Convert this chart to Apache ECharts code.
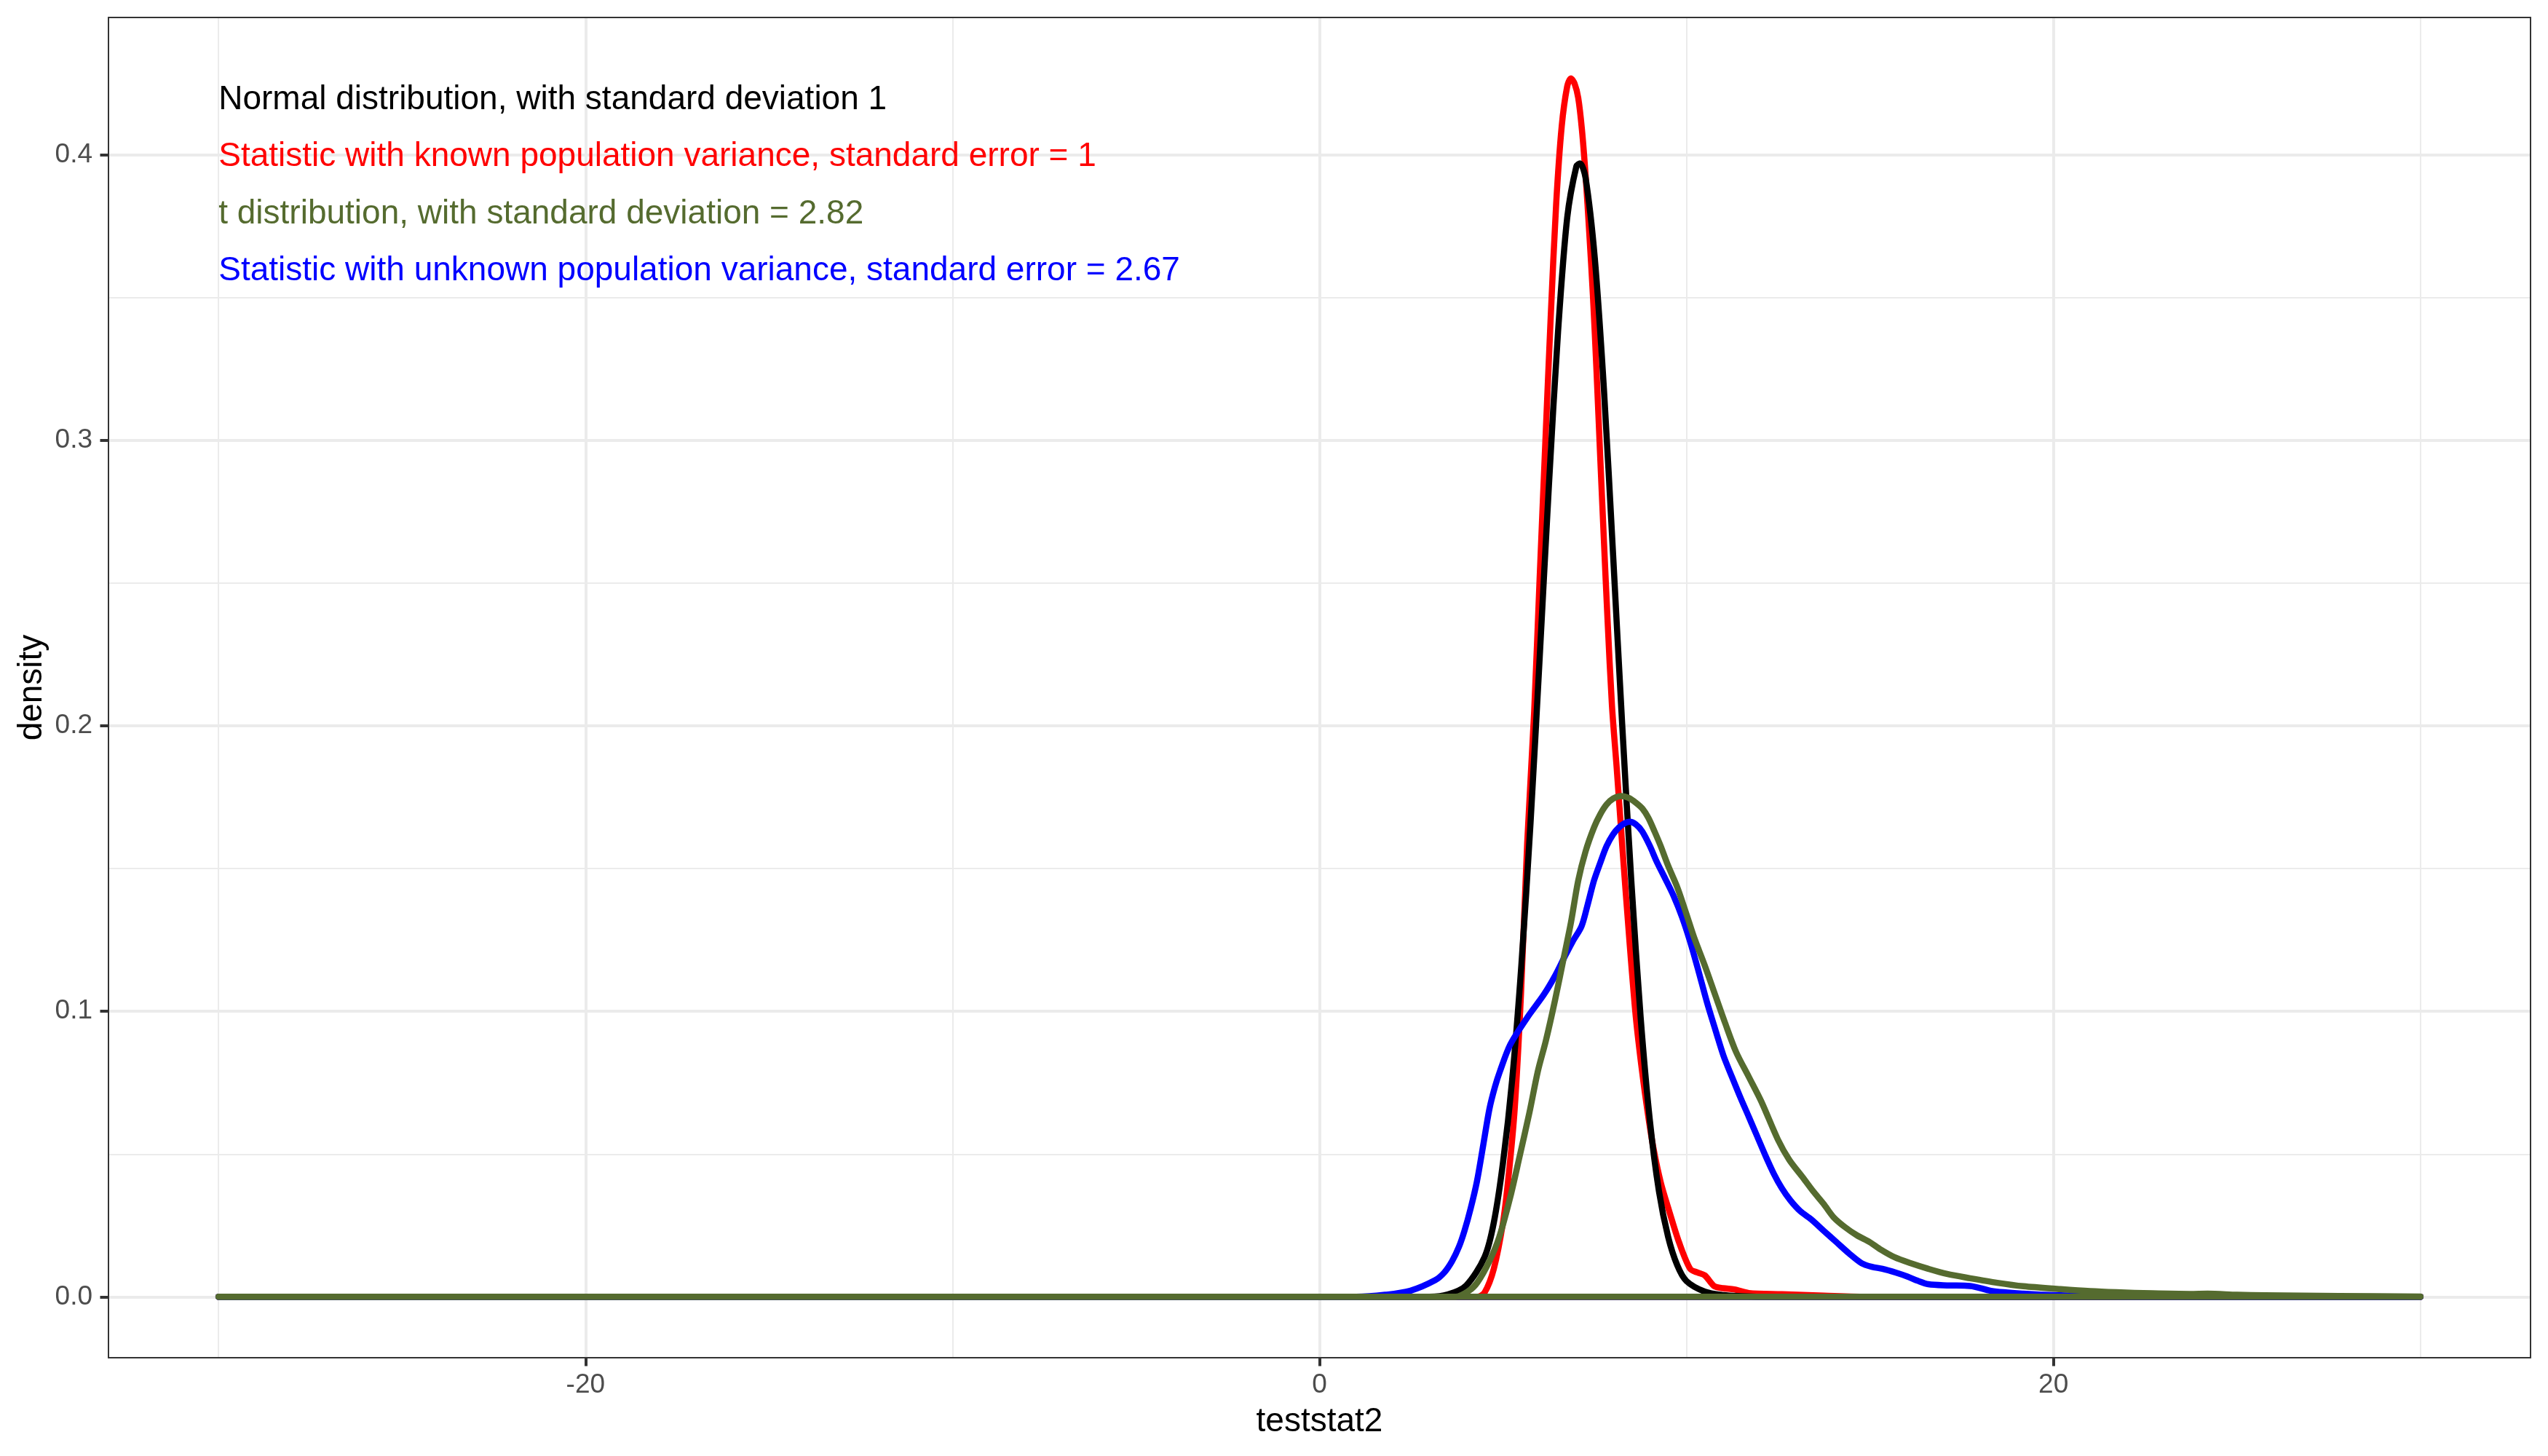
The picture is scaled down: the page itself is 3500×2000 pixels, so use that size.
<!DOCTYPE html>
<html>
<head>
<meta charset="utf-8">
<script src="https://cdn.jsdelivr.net/npm/echarts@6/dist/echarts.min.js"></script>
<style>
html, body { margin: 0; padding: 0; background: #ffffff; }
#chart { width: 3500px; height: 2000px; }
</style>
</head>
<body>
<div id="chart"></div>
<script>
// ---------- data ----------
const xTickValues = [-20, 0, 20];
const xMinorValues = [-30, -10, 10, 30];
const yTickValues = [0, 0.1, 0.2, 0.3, 0.4];
const yMinorValues = [0.05, 0.15, 0.25, 0.35];

const xTitle = 'teststat2';
const yTitle = 'density';

// Statistic with known population variance (red)
const redX = [-30, 4.3, 4.5, 4.75, 5.0, 5.15, 5.32, 5.49, 5.66, 5.85, 6.0, 6.15, 6.3, 6.45, 6.6, 6.75, 6.85, 6.95, 7.05, 7.15, 7.25, 7.35, 7.45, 7.55, 7.65, 7.75, 7.85, 7.97, 8.1, 8.25, 8.45, 8.62, 8.79, 8.95, 9.1, 9.3, 9.53, 9.8, 10.1, 10.3, 10.5, 10.75, 11.0, 11.3, 11.7, 12.6, 13.74, 15.0, 30];
const redY = [0, 0, 0.0015, 0.0098, 0.026, 0.042, 0.066, 0.106, 0.159, 0.205, 0.252, 0.298, 0.343, 0.383, 0.41, 0.424, 0.4268, 0.425, 0.42, 0.409, 0.393, 0.373, 0.351, 0.324, 0.294, 0.265, 0.237, 0.207, 0.185, 0.158, 0.124, 0.098, 0.079, 0.064, 0.052, 0.04, 0.03, 0.019, 0.0098, 0.0085, 0.0075, 0.0038, 0.003, 0.0026, 0.0013, 0.0009, 0.0004, 0, 0];

// Normal distribution, standard deviation 1 (black)
const blackX = [-30, 3.0, 3.5, 4.0, 4.5, 4.75, 5.0, 5.25, 5.5, 5.75, 6.0, 6.25, 6.5, 6.75, 7.0, 7.1, 7.25, 7.5, 7.75, 8.0, 8.25, 8.5, 8.75, 9.0, 9.25, 9.5, 9.75, 10.0, 10.5, 11.0, 11.5, 12.0, 30];
const blackY = [0, 0, 0.0008, 0.004, 0.014, 0.026, 0.047, 0.076, 0.116, 0.166, 0.224, 0.284, 0.338, 0.378, 0.396, 0.397, 0.392, 0.364, 0.318, 0.26, 0.2, 0.145, 0.098, 0.062, 0.037, 0.021, 0.011, 0.0055, 0.0018, 0.0006, 0.0002, 0, 0];

// Statistic with unknown population variance (blue)
const blueX = [-30, 1.0, 1.79, 2.47, 3.15, 3.4, 3.61, 3.8, 3.95, 4.12, 4.29, 4.46, 4.63, 4.78, 4.92, 5.2, 5.66, 6.11, 6.4, 6.68, 6.9, 7.14, 7.3, 7.48, 7.65, 7.82, 8.0, 8.16, 8.3, 8.45, 8.62, 8.79, 9.0, 9.19, 9.42, 9.65, 9.88, 10.1, 10.33, 10.56, 10.8, 11.01, 11.24, 11.47, 11.7, 11.92, 12.15, 12.38, 12.6, 12.83, 13.1, 13.4, 13.75, 14.09, 14.43, 14.77, 15.05, 15.34, 15.7, 16.02, 16.3, 16.59, 17.1, 17.73, 18.3, 19.18, 20.19, 22.0, 30];
const blueY = [0, 0, 0.0007, 0.0021, 0.0058, 0.0085, 0.0124, 0.0175, 0.0231, 0.031, 0.0404, 0.053, 0.0658, 0.0735, 0.0791, 0.0884, 0.0978, 0.1058, 0.112, 0.1191, 0.1245, 0.1298, 0.137, 0.1458, 0.152, 0.1578, 0.162, 0.1644, 0.1658, 0.1664, 0.1655, 0.1631, 0.158, 0.1524, 0.1465, 0.1404, 0.133, 0.1244, 0.114, 0.1031, 0.093, 0.0844, 0.077, 0.0698, 0.063, 0.0564, 0.0495, 0.0431, 0.038, 0.0338, 0.03, 0.0271, 0.023, 0.0191, 0.0152, 0.0118, 0.0105, 0.0098, 0.0085, 0.0071, 0.0056, 0.0044, 0.004, 0.0038, 0.0021, 0.0011, 0.0005, 0.0001, 0];

// t distribution (dark olive green)
const greenX = [-30, 3.7, 4.06, 4.3, 4.63, 4.9, 5.2, 5.45, 5.72, 5.95, 6.17, 6.42, 6.66, 6.85, 7.05, 7.25, 7.48, 7.65, 7.82, 8.0, 8.22, 8.42, 8.62, 8.8, 8.96, 9.13, 9.3, 9.5, 9.76, 10.0, 10.21, 10.5, 10.78, 11.05, 11.35, 11.7, 12.04, 12.49, 12.8, 13.17, 13.45, 13.74, 14.0, 14.31, 14.65, 14.99, 15.3, 15.68, 16.1, 16.59, 17.1, 17.73, 18.47, 19.18, 20.19, 21.0, 21.71, 22.7, 23.73, 24.2, 25.0, 25.76, 27.78, 30];
const greenY = [0, 0, 0.002, 0.005, 0.0125, 0.021, 0.035, 0.049, 0.0645, 0.079, 0.0898, 0.104, 0.119, 0.131, 0.1458, 0.156, 0.1644, 0.169, 0.1724, 0.1745, 0.1754, 0.1748, 0.1731, 0.171, 0.1678, 0.163, 0.1578, 0.151, 0.1431, 0.134, 0.1258, 0.116, 0.1058, 0.096, 0.0858, 0.077, 0.0684, 0.0551, 0.048, 0.0418, 0.037, 0.0325, 0.028, 0.0245, 0.0215, 0.0192, 0.0165, 0.0138, 0.0118, 0.0098, 0.008, 0.0065, 0.0049, 0.0037, 0.0027, 0.002, 0.0016, 0.0012, 0.001, 0.0011, 0.0007, 0.0005, 0.0003, 0.0001];

const curveNames = ['known variance', 'normal sd 1', 'unknown variance', 't distribution'];
const curveColors = ['#FF0000', '#000000', '#0000FF', '#556B2F'];
const curveXs = [redX, blackX, blueX, greenX];
const curveYs = [redY, blackY, blueY, greenY];

const annotationTexts = [
  'Normal distribution, with standard deviation 1',
  'Statistic with known population variance, standard error = 1',
  't distribution, with standard deviation = 2.82',
  'Statistic with unknown population variance, standard error = 2.67'
];
const annotationColors = ['#000000', '#FF0000', '#556B2F', '#0000FF'];
const annotationX = [-30, -30, -30, -30];
const annotationY = [0.42, 0.40, 0.38, 0.36];

// ---------- build chart ----------
const FONT = 'Liberation Sans, Arial, Helvetica, sans-serif';

const allX = [].concat(...curveXs);
const allY = [].concat(...curveYs);
const xLo = Math.min(...allX), xHi = Math.max(...allX);
const yLo = 0, yHi = Math.max(...allY);
const xPad = 0.05 * (xHi - xLo), yPad = 0.05 * (yHi - yLo);
const xMin = xLo - xPad, xMax = xHi + xPad;
const yMin = yLo - yPad, yMax = yHi + yPad;

const series = [];
curveXs.forEach((xs, i) => {
  const ys = curveYs[i];
  const style = { color: curveColors[i], width: 8.5, cap: 'round', join: 'round', opacity: 1 };
  series.push({
    name: curveNames[i], type: 'line', xAxisIndex: 0, yAxisIndex: 0,
    data: xs.map((x, k) => [x, ys[k]]),
    smooth: 0.3, showSymbol: false, symbol: 'none', silent: true,
    lineStyle: style, itemStyle: { color: curveColors[i] }
  });
  // density polygon baseline
  series.push({
    name: curveNames[i] + ' base', type: 'line', xAxisIndex: 0, yAxisIndex: 0,
    data: [[xs[0], 0], [xs[xs.length - 1], 0]],
    showSymbol: false, symbol: 'none', silent: true,
    lineStyle: style, itemStyle: { color: curveColors[i] }
  });
});

series.push({
  type: 'scatter', xAxisIndex: 0, yAxisIndex: 0, silent: true, z: 10,
  symbolSize: 0,
  itemStyle: { opacity: 1, color: 'rgba(0,0,0,0)' },
  data: annotationTexts.map((t, i) => ({
    name: t, value: [annotationX[i], annotationY[i]],
    label: { color: annotationColors[i] }
  })),
  label: {
    show: true, position: 'right', distance: 0, offset: [0, 3],
    fontSize: 46, fontFamily: FONT, opacity: 1,
    formatter: p => p.name
  }
});

const chart = echarts.init(document.getElementById('chart'), null, { renderer: 'canvas' });
chart.setOption({
  animation: false,
  backgroundColor: '#ffffff',
  textStyle: { fontFamily: FONT },
  grid: { left: 149, right: 24, top: 24, bottom: 135, containLabel: false, show: false },
  xAxis: [{
    type: 'value', min: xMin, max: xMax, position: 'bottom',
    axisLine: { show: true, onZero: false, lineStyle: { color: '#333333', width: 2 } },
    axisTick: { show: true, customValues: xTickValues, length: 11.5, lineStyle: { color: '#333333', width: 4 } },
    axisLabel: { show: true, customValues: xTickValues, fontSize: 37, color: '#4D4D4D', margin: 19, fontFamily: FONT },
    splitLine: { show: true, lineStyle: { color: '#EBEBEB', width: 4 } },
    minorSplitLine: { show: false },
    name: xTitle, nameLocation: 'middle', nameGap: 65, nameMoveOverlap: false,
    nameTextStyle: { fontSize: 46, color: '#000000', fontFamily: FONT }
  }, {
    type: 'value', min: xMin, max: xMax, position: 'top',
    axisLine: { show: true, onZero: false, lineStyle: { color: '#333333', width: 2 } },
    axisTick: { show: false, customValues: xMinorValues },
    axisLabel: { show: false, customValues: xMinorValues },
    splitLine: { show: true, lineStyle: { color: '#EBEBEB', width: 2 } }
  }],
  yAxis: [{
    type: 'value', min: yMin, max: yMax, position: 'left',
    axisLine: { show: true, onZero: false, lineStyle: { color: '#333333', width: 2 } },
    axisTick: { show: true, customValues: yTickValues, length: 11.5, lineStyle: { color: '#333333', width: 4 } },
    axisLabel: { show: true, customValues: yTickValues, fontSize: 37, color: '#4D4D4D', margin: 22, fontFamily: FONT,
                 formatter: v => Number(v).toFixed(1) },
    splitLine: { show: true, lineStyle: { color: '#EBEBEB', width: 4 } },
    name: yTitle, nameLocation: 'middle', nameRotate: 90, nameGap: 82, nameMoveOverlap: false,
    nameTextStyle: { fontSize: 46, color: '#000000', fontFamily: FONT }
  }, {
    type: 'value', min: yMin, max: yMax, position: 'right',
    axisLine: { show: true, onZero: false, lineStyle: { color: '#333333', width: 2 } },
    axisTick: { show: false, customValues: yMinorValues },
    axisLabel: { show: false, customValues: yMinorValues },
    splitLine: { show: true, lineStyle: { color: '#EBEBEB', width: 2 } }
  }],
  series: series
});
</script>
</body>
</html>
